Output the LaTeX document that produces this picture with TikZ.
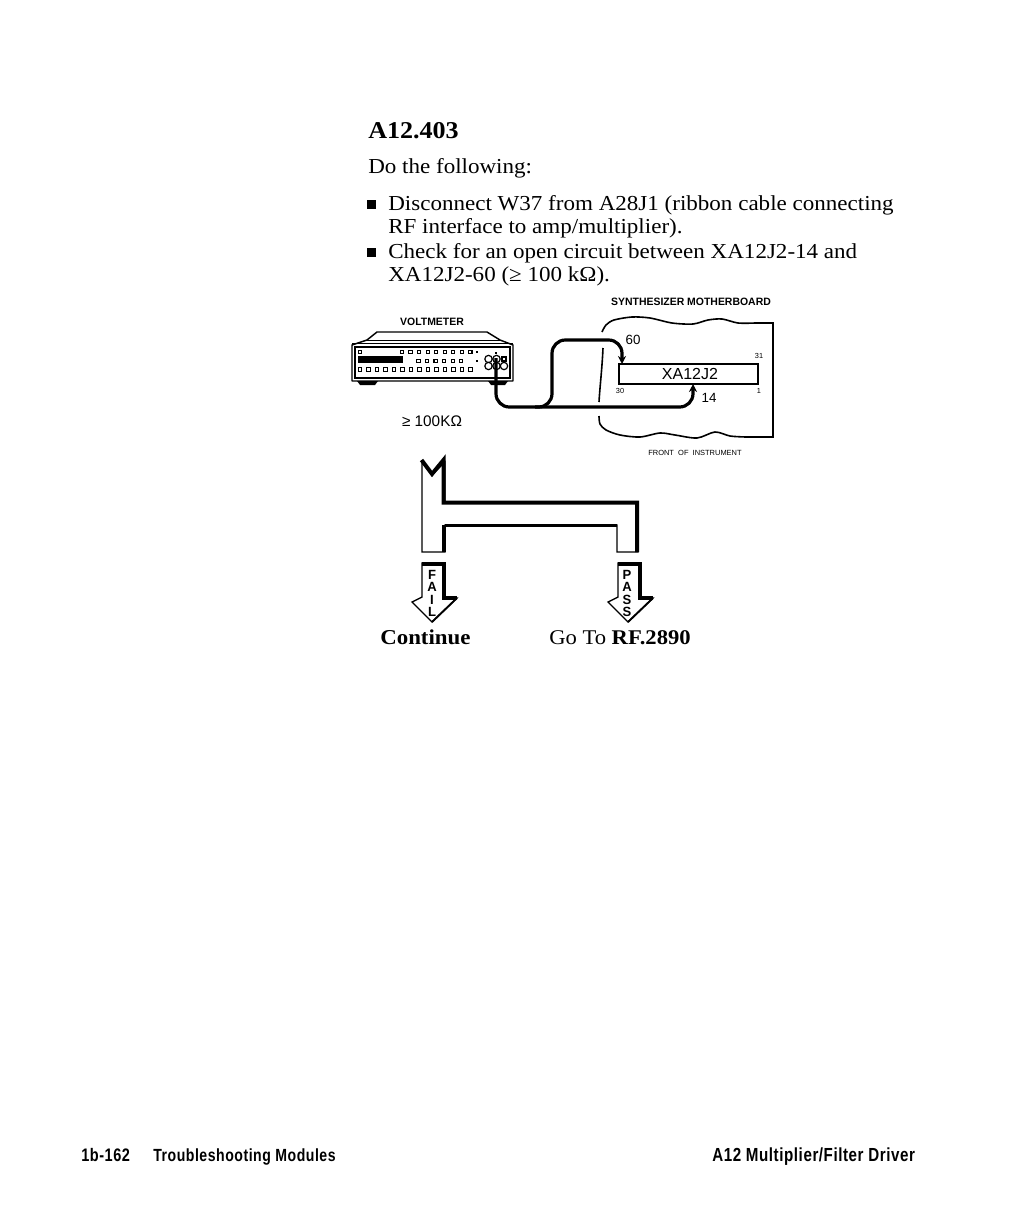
\documentclass[tikz,border=0pt]{standalone}
\usepackage{fontspec}
\usetikzlibrary{arrows.meta}
\setmainfont[FakeStretch=1.08,BoldFont={Liberation Serif Bold}]{Liberation Serif}
\newfontfamily\footfont[FakeStretch=0.8,LetterSpace=3]{Liberation Sans Bold}
\newfontfamily\stencil[FakeStretch=0.98]{Liberation Sans Bold}
\newfontfamily\plainsans{Liberation Sans}
\tikzset{
  bodyline/.style={anchor=base west,inner sep=0pt,font=\fontsize{16}{18}\selectfont},
  headline/.style={anchor=base west,inner sep=0pt,font=\fontsize{18.1}{20}\selectfont\bfseries},
  footline/.style={anchor=base west,inner sep=0pt,font=\fontsize{13.6}{15}\footfont},
  stenciltext/.style={inner sep=0pt,font=\fontsize{8}{8}\stencil},
  arrowletter/.style={inner sep=0pt,font=\fontsize{10}{10}\stencil},
  sanslabel/.style={inner sep=0pt,font=\fontsize{9}{10}\plainsans},
  tinylabel/.style={inner sep=0pt,font=\fontsize{5.5}{6}\plainsans},
  thinout/.style={line width=1pt,line join=miter},
  shade/.style={line width=3pt,line cap=butt,line join=miter},
  cable/.style={line width=2.4pt,rounded corners=10pt,-{Stealth[length=6pt,width=6pt]}},
  knob/.style={circle,draw,line width=0.9pt,minimum size=5.5pt,inner sep=0pt,fill=white},
  keycap/.style={draw,line width=0.8pt,minimum size=2.4pt,inner sep=0pt},
  socket/.style={draw,line width=1.2pt,minimum width=104pt,minimum height=15pt,inner sep=0pt},
}
\begin{document}
\begin{tikzpicture}[x=0.75pt,y=-0.75pt]
\useasboundingbox (0,0) rectangle (1008,1224);
\fill[white] (0,0) rectangle (1008,1224);

% text block
\node[headline] (title) at (368,138) {A12.403};
\node[bodyline] (intro) at (368,173) {Do the following:};
\fill (367,200) rectangle (376,209);
\node[bodyline] (l1) at (388,210) {Disconnect W37 from A28J1 (ribbon cable connecting};
\node[bodyline] (l2) at (388,233) {RF interface to amp/multiplier).};
\fill (367,248) rectangle (376,257);
\node[bodyline] (l3) at (388,258) {Check for an open circuit between XA12J2-14 and};
\node[bodyline] (l4) at (388,281) {XA12J2-60 (≥ 100 kΩ).};

% labels
\node[stenciltext] (synth) at (691,302) {SYNTHESIZER MOTHERBOARD};
\node[stenciltext] (volt) at (432,322) {VOLTMETER};
\node[sanslabel,font=\fontsize{11.5}{12}\plainsans] (res) at (432,421) {≥ 100KΩ};
\node[tinylabel,font=\fontsize{5.6}{6}\plainsans] (front) at (695,453) {FRONT\ \ OF\ \ INSTRUMENT};

% voltmeter
\draw[line width=1.1pt,line join=round] (352,381) -- (352,345) -- (367,340) -- (377,332) -- (487,332) -- (500,340) -- (513,345) -- (513,381) -- cycle;
\draw[line width=0.6pt] (367,340) -- (500,340);
\draw[line width=1pt] (352,343.5) -- (513,343.5);
\draw[line width=1pt] (355,347) rectangle (510,378);
\fill (357,381) -- (378,381) -- (375,385) -- (360,385) -- cycle;
\fill (488,381) -- (508,381) -- (505,385) -- (491,385) -- cycle;
\fill (358,356) rectangle (403,363);
\node[keycap] (k0) at (360,352) {};
\foreach \i in {0,...,8} \node[keycap] at ({402+8.55*\i},352) {};
\foreach \i in {0,...,5} \node[keycap] at ({418.5+8.55*\i},361) {};
\foreach \i in {0,...,13} \node[keycap] at ({360+8.5*\i},369.5) {};
\fill (476,351) rectangle (478,353);
\fill (476,360) rectangle (478,362);
\fill (495,352) rectangle (497,354);
\node[keycap,minimum size=3pt] (k1) at (504,359) {};
\node[knob] (j1) at (488.5,359) {};
\node[knob] (j3) at (488.5,366) {};
\node[knob] (j4) at (504,366) {};
\node[knob] (j2) at (496.5,359) {};
\node[knob] (j5) at (496.5,366) {};
\coordinate (probe) at (496,358);

% motherboard outline
\draw[line width=1.2pt]
  plot[smooth] coordinates {(602,332) (606,325) (614,320) (632,317) (650,318) (672,323) (693,324) (708,320) (722,319) (738,323) (755,323)}
  -- (773,323) -- (773,437) -- (746,437)
  plot[smooth] coordinates {(746,437) (730,436) (715,432) (697,438) (675,435) (660,433) (640,437) (620,435) (606,430) (600,424) (599,416)};
\draw[line width=1.2pt] (603,348) .. controls (602,370) and (600,385) .. (599,402);

% socket
\node[socket] (xa) at (688.5,374) {};
\node[sanslabel,font=\fontsize{12}{13}\plainsans] (xat) at (690,374) {XA12J2};
\node[sanslabel,font=\fontsize{10}{11}\plainsans] (p60) at (633,340) {60};
\node[sanslabel,font=\fontsize{10}{11}\plainsans] (p14) at (709,398) {14};
\node[tinylabel] (p31) at (759,356) {31};
\node[tinylabel] (p30) at (620,391) {30};
\node[tinylabel] (p1) at (759,391) {1};

% cables
\coordinate (c60) at (622,364);
\coordinate (c14) at (693,384);
\draw[cable] (probe) -- (496,407) -- (552,407) -- (552,340) -- (622,340) -- (c60);
\draw[cable] (535,407) -- (693,407) -- (c14);

% decision shape
\draw[thinout,fill=white] (422,462) -- (432,475) -- (445,462) -- (445,502) -- (638,502) -- (638,552) -- (617,552) -- (617,525) -- (445,525) -- (445,552) -- (422,552) -- cycle;
\draw[shade] (421.5,460) -- (432,474) -- (443.5,460) -- (443.5,502.5) -- (637,502.5) -- (637,552);
\draw[line width=1.8pt] (445,525.5) -- (617,525.5);
\draw[shade] (443.5,525) -- (443.5,552);

% FAIL arrow
\draw[thinout,fill=white] (422,563) -- (445,563) -- (445,598) -- (457,598) -- (432,622) -- (412,602) -- (422,597) -- cycle;
\draw[shade] (422,563.5) -- (443.5,563.5) -- (443.5,598) -- (457,598);
\draw[line width=1.4pt] (457,598) -- (432,622);
\foreach \c/\y/\n in {F/575/fa,A/587/fb,I/600/fc,L/612/fd}
  \node[arrowletter] (\n) at (432,\y) {\c};

% PASS arrow
\begin{scope}[xshift=147pt]
\draw[thinout,fill=white] (422,563) -- (445,563) -- (445,598) -- (457,598) -- (432,622) -- (412,602) -- (422,597) -- cycle;
\draw[shade] (422,563.5) -- (443.5,563.5) -- (443.5,598) -- (457,598);
\draw[line width=1.4pt] (457,598) -- (432,622);
\foreach \c/\y/\n in {P/575/pa,A/587/pb,S/600/pc,S/612/pd}
  \node[arrowletter] (\n) at (431,\y) {\c};
\end{scope}

\node[headline,font=\fontsize{15.9}{18}\selectfont\bfseries] (cont) at (380,644) {Continue};
\node[bodyline,font=\fontsize{15.7}{18}\selectfont] (goto) at (549,644) {Go To \textbf{RF.2890}};

% footer
\node[footline] (f1) at (81,1161) {1b-162};
\node[footline,font=\fontsize{13.2}{15}\footfont] (f2) at (153,1161) {Troubleshooting Modules};
\node[footline,font=\fontsize{14.2}{15}\footfont] (f3) at (712,1161) {A12 Multiplier/Filter Driver};
\end{tikzpicture}
\end{document}
